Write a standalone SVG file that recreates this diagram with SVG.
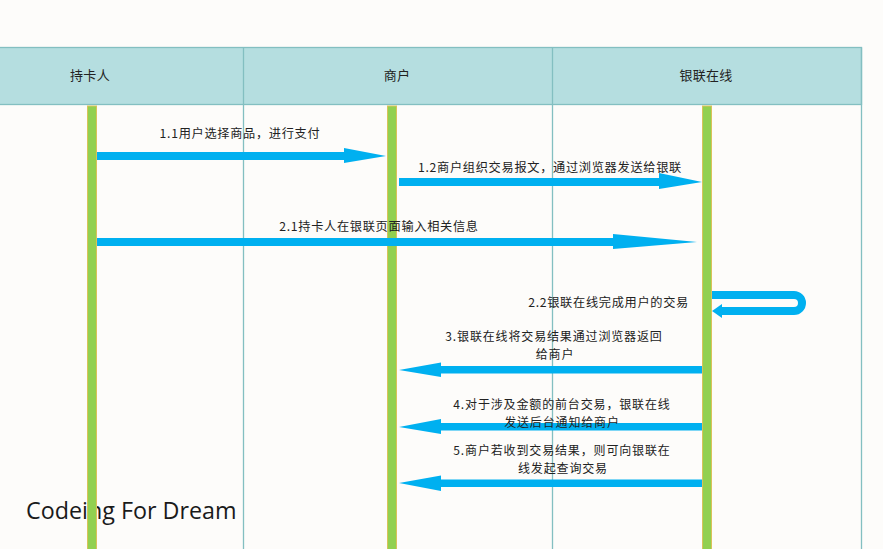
<svg xmlns="http://www.w3.org/2000/svg" width="883" height="549" viewBox="0 0 883 549">
<style>
.bg{fill:#fdfcfa}
.hdr{fill:#b5dee0;stroke:#83bfc1;stroke-width:1.3}
.grid{stroke:#83bfc1;stroke-width:1.3;fill:none}
.life{fill:#92d050;stroke:#d9c25a;stroke-width:1}
.arr{fill:#00b0f0}
.loop{fill:none;stroke:#00b0f0;stroke-width:8}
.t{font-family:"Noto Sans CJK SC","Liberation Sans",sans-serif;font-size:12.2px;letter-spacing:0.7px;fill:#222}
.t2{font-family:"Noto Sans CJK SC","Liberation Sans",sans-serif;font-size:12px;letter-spacing:0.85px;fill:#222;text-anchor:middle}
.h{font-family:"Noto Sans CJK SC","Liberation Sans",sans-serif;font-size:13px;letter-spacing:0.3px;fill:#222;text-anchor:middle}
.wm{font-family:"Open Sans","Noto Sans",sans-serif;font-size:23.3px;fill:#1a1a1a}
</style>
<rect class="bg" x="0" y="0" width="883" height="549"/>
<g id="header">
<rect class="hdr" x="-2" y="47.5" width="863.5" height="57"/>
<line class="grid" x1="243.5" y1="47.5" x2="243.5" y2="549"/>
<line class="grid" x1="552.5" y1="47.5" x2="552.5" y2="549"/>
<line class="grid" x1="861.5" y1="47.5" x2="861.5" y2="549"/>
</g>
<text class="wm" x="26" y="519">Codeing For Dream</text>
<g id="cardholder">
<text class="h" x="90" y="80">持卡人</text>
<rect class="life" x="87.5" y="106" width="9" height="450"/>
</g>
<g id="merchant">
<text class="h" x="397" y="80">商户</text>
<rect class="life" x="387.5" y="106" width="9" height="450"/>
</g>
<g id="unionpay">
<text class="h" x="706" y="80">银联在线</text>
<rect class="life" x="702.5" y="106" width="9" height="450"/>
</g>
<g id="connectors">
<rect class="arr" x="97" y="152" width="248" height="8"/>
<polygon class="arr" points="344,148 386,156 344,163"/>
<text class="t" x="240" y="138" text-anchor="middle">1.1用户选择商品，进行支付</text>

<rect class="arr" x="399" y="178" width="261" height="8"/>
<polygon class="arr" points="659,173 702,182 659,189"/>
<text class="t" x="550" y="172" text-anchor="middle">1.2商户组织交易报文，通过浏览器发送给银联</text>

<rect class="arr" x="97" y="238" width="517" height="8"/>
<polygon class="arr" points="613,234 697,242 613,249"/>
<text class="t" x="379" y="231" text-anchor="middle">2.1持卡人在银联页面输入相关信息</text>

<path class="loop" d="M712 295 H794 A8 8 0 0 1 794 311 H720"/>
<polygon class="arr" points="722,304 712,311 722,318"/>
<text class="t" x="689" y="307" text-anchor="end">2.2银联在线完成用户的交易</text>

<rect class="arr" x="440" y="366" width="262" height="7.5"/>
<polygon class="arr" points="441,362.5 399,370 441,377"/>
<text class="t2"><tspan x="554" y="341">3.银联在线将交易结果通过浏览器返回</tspan><tspan x="555" y="358.5">给商户</tspan></text>

<rect class="arr" x="440" y="423" width="262" height="7.5"/>
<polygon class="arr" points="441,419 399,427 441,434"/>
<text class="t2"><tspan x="562" y="409">4.对于涉及金额的前台交易，银联在线</tspan><tspan x="562" y="426.5">发送后台通知给商户</tspan></text>

<rect class="arr" x="440" y="479.5" width="262" height="7.5"/>
<polygon class="arr" points="441,475.5 399,483 441,491"/>
<text class="t2"><tspan x="562" y="455">5.商户若收到交易结果，则可向银联在</tspan><tspan x="563" y="472.5">线发起查询交易</tspan></text>
</g>
</svg>
